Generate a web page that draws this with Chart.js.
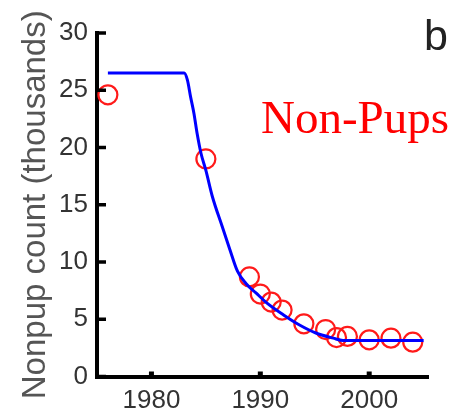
<!DOCTYPE html>
<html>
<head>
<meta charset="utf-8">
<script src="https://cdn.jsdelivr.net/npm/chart.js@4/dist/chart.umd.min.js"></script>
<style>
  html, body { margin: 0; padding: 0; background: #fff; }
  canvas { display: block; }
</style>
</head>
<body>
<canvas id="nonpupChart" width="454" height="414"></canvas>
<script>
/* ---------- DATA ---------- */

// survey counts of non-pups (thousands)
const surveyYears = [1976, 1985, 1989, 1990, 1991, 1992, 1994, 1996, 1997, 1998, 2000, 2002, 2004];
const surveyCounts = [24.6, 19.0, 8.7, 7.2, 6.5, 5.8, 4.6, 4.1, 3.4, 3.5, 3.2, 3.35, 3.0];

// fitted model trajectory
const fitYears = [1976, 1983, 1983.3, 1983.6, 1983.9, 1984.2, 1984.55, 1985, 1985.6, 1986.5, 1987.2,
  1987.9, 1988.7, 1989.6, 1990.5, 1992.1, 1993.6, 1995.1, 1996.7, 1997.6, 2005];
const fitCounts = [26.5, 26.5, 25.9, 24.4, 23.0, 21.2, 19.5, 18.0, 15.7, 13.1, 11.1,
  9.2, 8.1, 7.3, 6.5, 5.4, 4.5, 3.8, 3.35, 3.15, 3.15];

// axis ticks
const yearTicks = [1980, 1990, 2000];
const countTicks = [0, 5, 10, 15, 20, 25, 30];

const toPoints = (xs, ys) => xs.map((x, i) => ({x: x, y: ys[i]}));

/* ---------- PLUGINS ---------- */

// short tick marks pointing into the plot
const innerTicks = {
  id: 'innerTicks',
  afterDraw(chart) {
    const {ctx, chartArea, scales} = chart;
    ctx.save();
    ctx.strokeStyle = '#000';
    ctx.lineWidth = 3.5;
    scales.y.ticks.forEach(t => {
      const y = scales.y.getPixelForValue(t.value);
      ctx.beginPath();
      ctx.moveTo(chartArea.left, y);
      ctx.lineTo(chartArea.left + 9, y);
      ctx.stroke();
    });
    ctx.lineWidth = 5;
    scales.x.ticks.forEach(t => {
      const x = scales.x.getPixelForValue(t.value);
      ctx.beginPath();
      ctx.moveTo(x, chartArea.bottom);
      ctx.lineTo(x, chartArea.bottom - 5);
      ctx.stroke();
    });
    ctx.restore();
  }
};

// panel letter and series caption
const panelText = {
  id: 'panelText',
  afterDraw(chart) {
    const ctx = chart.ctx;
    ctx.save();
    ctx.textAlign = 'left';
    ctx.textBaseline = 'alphabetic';
    ctx.fillStyle = '#ff0000';
    ctx.font = '47px "Liberation Serif", "Times New Roman", serif';
    ctx.fillText('Non-Pups', 261, 133);
    ctx.fillStyle = '#222';
    ctx.font = '43px "Liberation Sans", Arial, sans-serif';
    ctx.fillText('b', 424, 50);
    ctx.restore();
  }
};

/* ---------- CHART ---------- */

const tickFont = {family: '"Liberation Sans", Arial, sans-serif', size: 26};

new Chart(document.getElementById('nonpupChart'), {
  type: 'scatter',
  data: {
    datasets: [
      {
        label: 'Model',
        data: toPoints(fitYears, fitCounts),
        showLine: true,
        borderColor: '#0000ff',
        borderWidth: 3,
        pointRadius: 0,
        cubicInterpolationMode: 'monotone',
        clip: false
      },
      {
        label: 'Non-pup counts',
        data: toPoints(surveyYears, surveyCounts),
        showLine: false,
        pointStyle: 'circle',
        pointRadius: 9.5,
        pointBorderWidth: 2.2,
        pointBorderColor: '#ff1a1a',
        pointBackgroundColor: 'rgba(0,0,0,0)',
        clip: false
      }
    ]
  },
  options: {
    responsive: false,
    animation: false,
    layout: {padding: {top: 33, right: 26, left: 0, bottom: 0}},
    plugins: {legend: {display: false}, tooltip: {enabled: false}},
    scales: {
      x: {
        type: 'linear',
        min: 1975,
        max: 2005.4,
        afterBuildTicks: s => { s.ticks = yearTicks.map(v => ({value: v})); },
        afterFit: s => { s.height = 37.5; },
        grid: {drawOnChartArea: false, drawTicks: false},
        border: {color: '#000', width: 4},
        ticks: {padding: 9, color: '#333', font: tickFont, callback: v => String(v)}
      },
      y: {
        min: 0,
        max: 30,
        afterBuildTicks: s => { s.ticks = countTicks.map(v => ({value: v})); },
        afterFit: s => { s.width = 97; },
        grid: {drawOnChartArea: false, drawTicks: false},
        border: {color: '#000', width: 4},
        ticks: {padding: 9, color: '#333', font: tickFont},
        title: {
          display: true,
          text: 'Nonpup count (thousands)',
          color: '#555',
          font: {family: '"Liberation Sans", Arial, sans-serif', size: 33, lineHeight: 1},
          padding: {top: 19, bottom: 0}
        }
      }
    }
  },
  plugins: [innerTicks, panelText]
});
</script>
</body>
</html>
